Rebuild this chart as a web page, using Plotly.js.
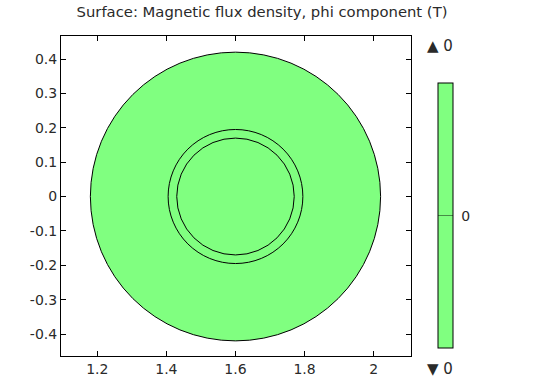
<!DOCTYPE html>
<html>
<head>
<meta charset="utf-8">
<script src="https://cdn.plot.ly/plotly-3.0.1.min.js"></script>
<style>html,body{margin:0;padding:0;background:#fff;}#chart{width:544px;height:386px;}</style>
</head>
<body>
<div id="chart"></div>
<script>
// Geometry
var centerX = 1.6;
var centerY = 0;
var radii = [0.42, 0.195, 0.17];
var fillFlags = [true, false, false];
// Field value (surface is uniform)
var fieldValue = [0];
var colorMin = 0, colorMax = 0;
var xTickVals = [1.2, 1.4, 1.6, 1.8, 2];
var xTickText = ['1.2', '1.4', '1.6', '1.8', '2'];
var yTickVals = [-0.4, -0.3, -0.2, -0.1, 0, 0.1, 0.2, 0.3, 0.4];
var yTickText = ['-0.4', '-0.3', '-0.2', '-0.1', '0', '0.1', '0.2', '0.3', '0.4'];
var cbTickVals = [0];
var cbTickText = ['\u00a00'];

var GREEN = '#80ff80';
var FONT = 'DejaVu Sans';
var TXT = '#2a2a2a';

var shapes = radii.map(function (r, i) {
  return {
    type: 'circle', xref: 'x', yref: 'y',
    x0: centerX - r, x1: centerX + r, y0: centerY - r, y1: centerY + r,
    fillcolor: fillFlags[i] ? GREEN : 'rgba(0,0,0,0)',
    line: {color: '#000', width: 1},
    layer: 'below'
  };
});

var traces = [{
  type: 'scatter', mode: 'markers',
  x: [centerX], y: [centerY],
  hoverinfo: 'skip',
  marker: {
    size: 2, color: fieldValue,
    cmin: colorMin - 1, cmax: colorMax + 1,
    colorscale: [[0, GREEN], [1, GREEN]],
    showscale: true,
    colorbar: {
      thickness: 15, thicknessmode: 'pixels',
      len: 265, lenmode: 'pixels',
      x: 1.078, xanchor: 'left', xref: 'paper',
      y: 0.438, yanchor: 'middle', yref: 'paper',
      xpad: 0, ypad: 0,
      outlinewidth: 1, outlinecolor: '#000',
      borderwidth: 0,
      tickmode: 'array', tickvals: cbTickVals, ticktext: cbTickText,
      ticks: 'inside', ticklen: 15, tickwidth: 1, tickcolor: 'rgba(0,0,0,0.45)',
      tickfont: {family: FONT, size: 14, color: TXT}
    }
  },
  showlegend: false
}];

var axisCommon = {
  showline: true, linecolor: '#000', linewidth: 1, mirror: 'ticks',
  ticks: 'inside', ticklen: 5, tickwidth: 1, tickcolor: '#000',
  showgrid: false, zeroline: false,
  tickfont: {family: FONT, size: 14, color: TXT}
};

var layout = {
  width: 544, height: 386,
  margin: {l: 61, r: 133, t: 36, b: 30},
  paper_bgcolor: '#fff', plot_bgcolor: '#fff',
  font: {family: FONT, size: 14, color: TXT},
  title: {
    text: 'Surface: Magnetic flux density, phi component (T)',
    font: {family: FONT, size: 14.8, color: TXT},
    x: 262 / 544, xref: 'container', xanchor: 'center',
    y: 1 - 12 / 386, yref: 'container', yanchor: 'middle'
  },
  xaxis: Object.assign({}, axisCommon, {
    range: [1.095, 2.108], tickmode: 'array', tickvals: xTickVals, ticktext: xTickText
  }),
  yaxis: Object.assign({}, axisCommon, {
    range: [-0.464, 0.467], tickmode: 'array', tickvals: yTickVals, ticktext: yTickText
  }),
  shapes: shapes,
  annotations: [
    {text: '▲ ' + colorMax, xref: 'paper', yref: 'paper', x: 1.04, y: 0.969,
     xanchor: 'left', yanchor: 'middle', showarrow: false,
     font: {family: FONT, size: 15, color: TXT}},
    {text: '▼ ' + colorMin, xref: 'paper', yref: 'paper', x: 1.04, y: -0.041,
     xanchor: 'left', yanchor: 'middle', showarrow: false,
     font: {family: FONT, size: 15, color: TXT}}
  ]
};

Plotly.newPlot('chart', traces, layout, {displayModeBar: false, staticPlot: true});
</script>
</body>
</html>
